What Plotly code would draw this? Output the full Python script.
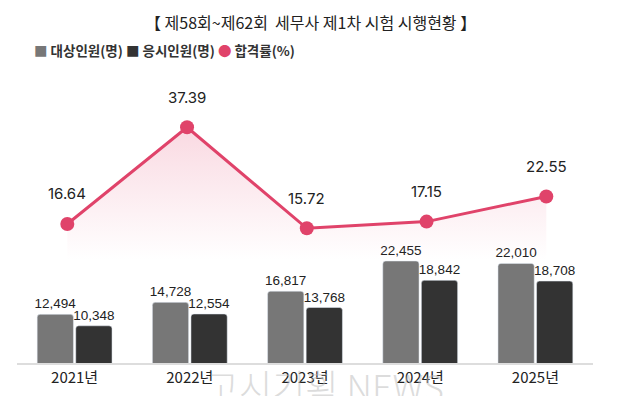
import plotly.graph_objects as go

years = ["2021년", "2022년", "2023년", "2024년", "2025년"]
target = [12494, 14728, 16817, 22455, 22010]
applicants = [10348, 12554, 13768, 18842, 18708]
pass_rate = [16.64, 37.39, 15.72, 17.15, 22.55]

GRAY = "#777777"
DARK = "#333333"
PINK = "#e0436a"

# page body adds an 8px offset; geometry given in screen pixels
OFF = 8
W, H = 625, 396
PL, PR, PT, PB = 17, 592.7, 60, 363  # plot box in screen px
ML = PL - OFF
MR = W - (PR - OFF)
MT = PT - OFF
MB = H - (PB - OFF)
PW = PR - PL
PH = PB - PT


def px(x):
    return (x - PL) / PW


def py(y):
    return (PB - y) / PH


NUMFONT = "Liberation Sans, Arial, sans-serif"

fig = go.Figure()
fig.add_trace(go.Bar(
    x=years, y=target, name="대상인원(명)", marker_color=GRAY,
    text=[f"{v:,}" for v in target], textposition="outside", constraintext="none",
    textfont=dict(family=NUMFONT, size=13.5, color="#222"),
    cliponaxis=False, showlegend=False,
))
fig.add_trace(go.Bar(
    x=years, y=applicants, name="응시인원(명)", marker_color=DARK,
    text=[f"{v:,}" for v in applicants], textposition="outside", constraintext="none",
    textfont=dict(family=NUMFONT, size=13.5, color="#222"),
    cliponaxis=False, showlegend=False,
))
idx = list(range(len(years)))
fig.add_trace(go.Scatter(
    x=idx, y=pass_rate, xaxis="x2", yaxis="y2", mode="lines+markers",
    line=dict(color=PINK, width=3), marker=dict(size=14, color=PINK),
    fill="tozeroy",
    fillgradient=dict(type="vertical", start=9, stop=37.39,
                      colorscale=[[0, "rgba(235,120,150,0)"], [1, "rgba(235,120,150,0.28)"]]),
    showlegend=False, cliponaxis=False,
))
for i, v in zip(idx, pass_rate):
    fig.add_annotation(x=i, y=v, xref="x2", yref="y2", text=f"{v:.2f}", showarrow=False,
                       yshift=30, font=dict(family="Inter, Noto Sans", size=15, color="#222"))

fig.add_annotation(xref="paper", yref="paper", x=px(204), y=py(357), xanchor="left", yanchor="top",
                   text="고시기획 NEWS", showarrow=False,
                   font=dict(family="Noto Sans CJK KR", size=36, weight=300,
                             color="rgba(185,185,185,0.5)"))

fig.add_annotation(xref="paper", yref="paper", x=px(310), y=py(22),
                   text="【 제58회~제62회  세무사 제1차 시험 시행현황 】", showarrow=False,
                   xanchor="center", yanchor="middle",
                   font=dict(family="Noto Sans CJK KR", size=16, color="#222"))
fig.add_annotation(xref="paper", yref="paper", x=px(32), y=py(50),
                   text=f"<b><span style='color:{GRAY}'>■</span> 대상인원(명) "
                        f"<span style='color:{DARK}'>■</span> 응시인원(명) "
                        f"<span style='color:{PINK}'>●</span> 합격률(%)</b>",
                   showarrow=False, xanchor="left", yanchor="middle",
                   font=dict(family="Noto Sans CJK KR", size=13.5, color="#333"))

fig.update_layout(
    width=W, height=H,
    margin=dict(l=ML, r=MR, t=MT, b=MB),
    paper_bgcolor="white", plot_bgcolor="rgba(0,0,0,0)",
    barmode="group", bargap=0.33, bargroupgap=0.06, barcornerradius=3,
    font=dict(family="Noto Sans CJK KR"),
    xaxis=dict(showgrid=False, showline=True, linecolor="#dddddd", linewidth=1.5,
               ticks="", tickfont=dict(size=15, color="#222", family="Noto Sans CJK KR"),
               fixedrange=True),
    yaxis=dict(range=[3394, 60030], visible=False, showgrid=False),
    xaxis2=dict(overlaying="x", range=[-0.42, 4.39], visible=False),
    yaxis2=dict(overlaying="y", range=[-13.19, 51.83], visible=False),
)

fig.write_html("out.html")
